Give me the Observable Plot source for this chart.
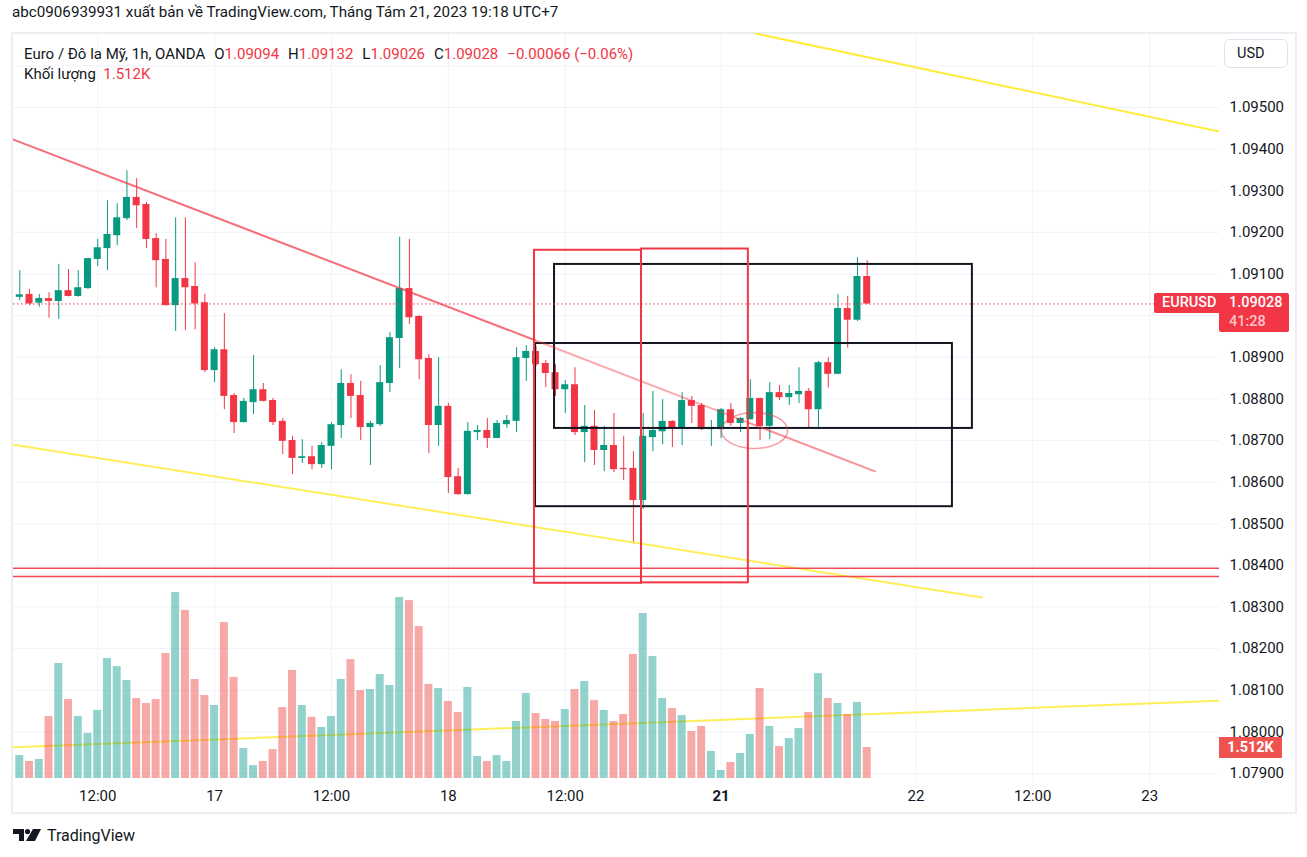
<!DOCTYPE html>
<html>
<head>
<meta charset="utf-8">
<script src="https://cdn.jsdelivr.net/npm/d3@7"></script>
<script src="https://cdn.jsdelivr.net/npm/@observablehq/plot@0.6"></script>
<style>
  html, body { margin: 0; padding: 0; background: #fff; }
  body { font-family: Roboto, "Noto Sans", sans-serif; color: #131722; }
  #wrap { position: relative; width: 1307px; height: 857px; overflow: hidden; background: #fff; }
  .abs { position: absolute; }
  #hdr { left: 12px; top: 2px; font-size: 15.2px; line-height: 20px; white-space: nowrap; }
  #frame { left: 11px; top: 32px; width: 1282px; height: 778px; border: 2px solid #eceef2; }
  #price, #vol { left: 13px; top: 33px; }
  .leg { left: 24px; font-size: 15px; line-height: 20px; white-space: nowrap; }
  .leg .r { color: #f23645; }
  .leg .gap { display: inline-block; width: 9px; }
  #usd { left: 1224px; top: 39px; width: 62px; height: 27px; border: 1px solid #e0e3eb; border-radius: 6px;
         font-size: 14.5px; line-height: 27px; text-indent: 12px; background:#fff; }
  #symTag { left: 1154px; top: 293px; width: 65px; height: 20px; background: #f23645; color: #fff; border-radius: 2px 0 0 2px;
            font-size: 14.5px; line-height: 20px; padding-left: 8px; box-sizing: border-box; font-weight: 500; }
  #valTag { left: 1219px; top: 293px; width: 70px; height: 39px; background: #f23645; color: #fff; border-radius: 0 2px 2px 2px;
            font-size: 14.5px; line-height: 19px; padding-left: 10px; box-sizing: border-box; font-weight: 500; }
  #valTag .cd { color: rgba(255,255,255,0.72); }
  #volTag { left: 1219px; top: 737px; width: 63px; height: 21px; background: #ef5350; color: #fff;
            font-size: 14.5px; line-height: 21px; text-align: center; font-weight: 700; }
  #logo { left: 13px; top: 824px; height: 22px; display: flex; align-items: center; gap: 6px; font-size: 16px; color: #131722; }
</style>
</head>
<body>
<div id="wrap">
  <div id="hdr" class="abs">abc0906939931 xuất bản về TradingView.com, Tháng Tám 21, 2023 19:18 UTC+7</div>
  <div id="frame" class="abs"></div>
  <div id="price" class="abs"></div>
  <div id="vol" class="abs"></div>
  <div id="leg1" class="abs leg" style="top:44px"></div>
  <div id="leg2" class="abs leg" style="top:64px"></div>
  <div id="usd" class="abs">USD</div>
  <div id="symTag" class="abs">EURUSD</div>
  <div id="valTag" class="abs"></div>
  <div id="volTag" class="abs"></div>
  <div id="logo" class="abs">
    <svg width="28" height="12" viewBox="0 0 28 12"><path d="M0 0H11V12H6V5H0Z" fill="#131722"/><circle cx="14.5" cy="2.6" r="2.6" fill="#131722"/><path d="M20 0H28L22 12H13Z" fill="#131722"/></svg>
    <span>TradingView</span>
  </div>
</div>
<script>
// ---------------- DATA (EUR/USD, 1h, OANDA) ----------------
// bar index 0 = 16 Aug 04:00 (UTC+7); weekend gap removed
const opens  = [1.09044,1.09051,1.09030,1.09041,1.09034,1.09060,1.09046,1.09065,1.09135,1.09161,
                1.09192,1.09233,1.09284,1.09267,1.09185,1.09135,1.09024,1.09089,1.09070,1.09031,
                1.08868,1.08918,1.08808,1.08743,1.08791,1.08822,1.08796,1.08746,1.08700,1.08657,
                1.08661,1.08642,1.08686,1.08736,1.08837,1.08808,1.08731,1.08738,1.08837,1.08945,
                1.09065,1.08998,1.08897,1.08736,1.08782,1.08613,1.08570,1.08719,1.08724,1.08705,
                1.08738,1.08746,1.08897,1.08914,1.08885,1.08863,1.08822,1.08834,1.08719,1.08734,
                1.08676,1.08688,1.08633,1.08633,1.08556,1.08707,1.08721,1.08746,1.08731,1.08796,
                1.08784,1.08726,1.08726,1.08774,1.08741,1.08750,1.08801,1.08734,1.08815,1.08803,
                1.08810,1.08818,1.08774,1.08887,1.08859,1.09017,1.08989,1.09094];
const highs  = [1.09108,1.09063,1.09051,1.09055,1.09123,1.09111,1.09108,1.09138,1.09183,1.09276,
                1.09269,1.09348,1.09329,1.09272,1.09197,1.09183,1.09235,1.09235,1.09127,1.09051,
                1.08923,1.09005,1.08813,1.08801,1.08904,1.08837,1.08801,1.08753,1.08710,1.08702,
                1.08686,1.08695,1.08743,1.08870,1.08858,1.08842,1.08746,1.08880,1.08959,1.09188,
                1.09183,1.09000,1.08906,1.08899,1.08789,1.08633,1.08743,1.08736,1.08753,1.08748,
                1.08760,1.08923,1.08928,1.08926,1.08892,1.08882,1.08844,1.08875,1.08784,1.08772,
                1.08734,1.08765,1.08710,1.08673,1.08765,1.08818,1.08798,1.08747,1.08815,1.08806,
                1.08789,1.08748,1.08777,1.08789,1.08755,1.08846,1.08802,1.08839,1.08832,1.08832,
                1.08875,1.08825,1.08890,1.08899,1.09051,1.09046,1.09139,1.09132];
const lows   = [1.09036,1.09024,1.09020,1.08994,1.08991,1.09045,1.09044,1.09063,1.09118,1.09108,
                1.09168,1.09228,1.09209,1.09161,1.09067,1.09023,1.08962,1.08964,1.08966,1.08863,
                1.08839,1.08774,1.08717,1.08742,1.08762,1.08793,1.08736,1.08666,1.08618,1.08645,
                1.08630,1.08633,1.08630,1.08705,1.08753,1.08700,1.08640,1.08734,1.08815,1.08873,
                1.08979,1.08846,1.08669,1.08686,1.08573,1.08568,1.08569,1.08700,1.08681,1.08704,
                1.08729,1.08719,1.08842,1.08877,1.08827,1.08806,1.08765,1.08712,1.08647,1.08640,
                1.08625,1.08623,1.08604,1.08452,1.08534,1.08673,1.08690,1.08683,1.08688,1.08741,
                1.08724,1.08686,1.08705,1.08734,1.08719,1.08749,1.08700,1.08702,1.08796,1.08784,
                1.08789,1.08729,1.08726,1.08826,1.08858,1.08922,1.08986,1.09026];
const closes = [1.09050,1.09028,1.09041,1.09034,1.09060,1.09046,1.09067,1.09137,1.09163,1.09195,
                1.09235,1.09284,1.09264,1.09183,1.09132,1.09024,1.09089,1.09067,1.09028,1.08868,
                1.08918,1.08806,1.08743,1.08794,1.08822,1.08794,1.08743,1.08698,1.08657,1.08661,
                1.08642,1.08688,1.08738,1.08837,1.08806,1.08731,1.08741,1.08839,1.08947,1.09065,
                1.08995,1.08894,1.08736,1.08782,1.08611,1.08570,1.08722,1.08724,1.08705,1.08741,
                1.08748,1.08899,1.08914,1.08882,1.08861,1.08822,1.08834,1.08719,1.08734,1.08676,
                1.08688,1.08630,1.08630,1.08556,1.08710,1.08724,1.08746,1.08731,1.08796,1.08782,
                1.08726,1.08729,1.08774,1.08741,1.08753,1.08801,1.08734,1.08815,1.08803,1.08813,
                1.08818,1.08774,1.08887,1.08859,1.09017,1.08989,1.09094,1.09028];
// volume in thousands
const volumesK = [1.12,0.83,0.93,3.02,5.61,3.85,3.02,2.20,3.32,5.85,
                  5.46,4.78,3.90,3.66,3.85,6.10,9.07,8.20,4.83,4.05,
                  3.56,7.61,4.93,1.46,0.63,0.83,1.41,3.46,5.27,3.56,
                  2.98,2.49,3.02,4.83,5.80,4.29,4.34,5.07,4.54,8.83,
                  8.68,7.41,4.59,4.39,3.76,3.22,4.44,1.07,0.83,1.12,
                  0.83,2.78,4.15,3.17,2.88,2.78,3.37,4.34,4.73,3.80,
                  3.32,2.78,3.12,6.05,8.05,5.95,3.90,3.41,3.07,2.29,
                  2.54,1.32,0.39,0.78,1.22,2.15,4.39,2.54,1.56,1.95,
                  2.44,3.22,5.12,3.90,3.66,3.12,3.71,1.512];

// time-axis ticks (bar index) and labels
const timeTickBars   = [8, 20, 32, 44, 56, 72, 92, 104, 116];
const timeTickLabels = ["12:00", "17", "12:00", "18", "12:00", "21", "22", "12:00", "23"];
// price-axis ticks
const priceTicks = [1.079,1.080,1.081,1.082,1.083,1.084,1.085,1.086,1.087,1.088,1.089,1.090,1.091,1.092,1.093,1.094,1.095,1.096];
const countdown = "41:28";

// drawings (bar index, price)
const trendRed      = [{k: -0.65, p: 1.09423, s: "a"}, {k: 52.9, p: 1.08941, s: "a"},
                       {k: 52.9, p: 1.08941, s: "b"}, {k: 74.8, p: 1.08743, s: "b"},
                       {k: 74.8, p: 1.08743, s: "c"}, {k: 87.8, p: 1.08626, s: "c"}];
const trendYellowTop = [{k: 75.5, p: 1.09678}, {k: 123.2, p: 1.09442}];
const trendYellowLow = [{k: -0.65, p: 1.08690}, {k: 98.8, p: 1.08323}];
const trendYellowVol = [{k: -0.65, p: 1.07963}, {k: 123.2, p: 1.08075}];
const supportLines   = [1.08393, 1.08373];
const redBoxes   = [{k1: 52.84, k2: 63.83, p1: 1.08357, p2: 1.09157}, {k1: 63.83, k2: 74.8, p1: 1.08358, p2: 1.09160}];
const blackBoxes = [{k1: 54.9, k2: 97.8, p1: 1.08729, p2: 1.09123}, {k1: 52.95, k2: 95.75, p1: 1.08541, p2: 1.08933}];
const ellipse = {k: 75.43, p: 1.08724, rk: 3.39, rp: 0.00043};

// ---------------- BUILD ----------------
const bars = opens.map((o, i) => ({k: i, o, h: highs[i], l: lows[i], c: closes[i], v: volumesK[i], up: closes[i] >= o}));
const last = bars[bars.length - 1];
const prev = bars[bars.length - 2];
const UP = "#089981", DOWN = "#f23645";

const xDomain = [-0.647, 123.17];
const yDomain = [1.078784, 1.096778];
const paneW = 1206, paneH = 749;

const ellipsePts = d3.range(0, 2 * Math.PI + 0.05, 0.05).map(t => ({k: ellipse.k + ellipse.rk * Math.cos(t), p: ellipse.p + ellipse.rp * Math.sin(t)}));
const tickLabelMap = new Map(timeTickBars.map((b, i) => [b, timeTickLabels[i]]));

const priceChart = Plot.plot({
  width: paneW + 75, height: paneH + 31,
  marginLeft: 0, marginRight: 75, marginTop: 0, marginBottom: 31,
  x: {domain: xDomain, axis: null},
  y: {domain: yDomain, axis: null},
  style: {background: "transparent", fontFamily: "Roboto, sans-serif", fontSize: "15px", color: "#131722", overflow: "visible"},
  marks: [
    Plot.gridY(priceTicks, {stroke: "#f0f3fa", strokeOpacity: 1}),
    Plot.gridX(timeTickBars, {stroke: "#f0f3fa", strokeOpacity: 1}),
    Plot.axisY(priceTicks.filter(t => Math.abs(t - 1.090) > 1e-9 && t < 1.0955), {anchor: "right", tickSize: 0, tickPadding: 10, tickFormat: d => d.toFixed(5), label: null, fill: "#131722"}),
    Plot.axisX(timeTickBars, {anchor: "bottom", tickSize: 0, tickPadding: 8, tickFormat: d => tickLabelMap.get(d), label: null, fill: "#131722"}),
    // candles
    Plot.ruleX(bars, {x: "k", y1: "l", y2: "h", stroke: d => d.up ? UP : DOWN, strokeWidth: 1}),
    Plot.rect(bars, {x1: d => d.k - 0.36, x2: d => d.k + 0.36, y1: "o", y2: "c", fill: d => d.up ? UP : DOWN}),
    // drawings
    Plot.line(trendYellowTop, {x: "k", y: "p", stroke: "#ffeb3b", strokeWidth: 2, clip: true}),
    Plot.line(trendYellowLow, {x: "k", y: "p", stroke: "#ffeb3b", strokeOpacity: 0.85, strokeWidth: 2, clip: true}),
    Plot.line(trendYellowVol, {x: "k", y: "p", stroke: "#ffeb3b", strokeOpacity: 0.85, strokeWidth: 2, clip: true}),
    Plot.ruleY(supportLines, {stroke: DOWN, strokeWidth: 1.5, strokeOpacity: 0.9}),
    Plot.rect(blackBoxes, {x1: "k1", x2: "k2", y1: "p1", y2: "p2", fill: "none", stroke: "#131722", strokeWidth: 2}),
    Plot.rect(redBoxes, {x1: "k1", x2: "k2", y1: "p1", y2: "p2", fill: "none", stroke: DOWN, strokeWidth: 2}),
    Plot.line(trendRed, {x: "k", y: "p", z: "s", stroke: DOWN, strokeWidth: 2,
      strokeOpacity: d => d.s === "a" ? 0.72 : d.s === "b" ? 0.42 : 0.55, clip: true}),
    Plot.line(ellipsePts, {x: "k", y: "p", stroke: DOWN, strokeOpacity: 0.5, strokeWidth: 1.5, curve: "linear"}),
    Plot.ruleY([last.c], {stroke: DOWN, strokeWidth: 1, strokeDasharray: "1.5,2.5"})
  ]
});
d3.select(priceChart).selectAll("text").filter(function () { return this.textContent === "21"; }).attr("font-weight", "bold");
document.getElementById("price").appendChild(priceChart);

const volChart = Plot.plot({
  width: paneW, height: 745, margin: 0,
  x: {domain: xDomain, axis: null},
  y: {domain: [0, 745 / 20.5], axis: null},
  style: {background: "transparent"},
  marks: [
    Plot.rectY(bars, {x1: d => d.k - 0.41, x2: d => d.k + 0.41, y: "v", fill: d => d.up ? "#26a69a" : "#ef5350", fillOpacity: 0.5, clip: true})
  ]
});
document.getElementById("vol").appendChild(volChart);

// legend & tags
const chg = last.c - prev.c;
document.getElementById("leg1").innerHTML =
  `Euro / Đô la Mỹ, 1h, OANDA<span class="gap"></span>O<span class="r">${last.o.toFixed(5)}</span><span class="gap"></span>` +
  `H<span class="r">${last.h.toFixed(5)}</span><span class="gap"></span>L<span class="r">${last.l.toFixed(5)}</span><span class="gap"></span>` +
  `C<span class="r">${last.c.toFixed(5)}</span><span class="gap"></span><span class="r">${(chg < 0 ? "\u2212" : "+") + Math.abs(chg).toFixed(5)} (${(chg < 0 ? "\u2212" : "+") + Math.abs(chg / prev.c * 100).toFixed(2)}%)</span>`;
document.getElementById("leg2").innerHTML = `Khối lượng&nbsp; <span class="r">${last.v.toFixed(3)}K</span>`;
document.getElementById("valTag").innerHTML = `${last.c.toFixed(5)}<br><span class="cd">${countdown}</span>`;
document.getElementById("volTag").textContent = `${last.v.toFixed(3)}K`;
</script>
</body>
</html>
